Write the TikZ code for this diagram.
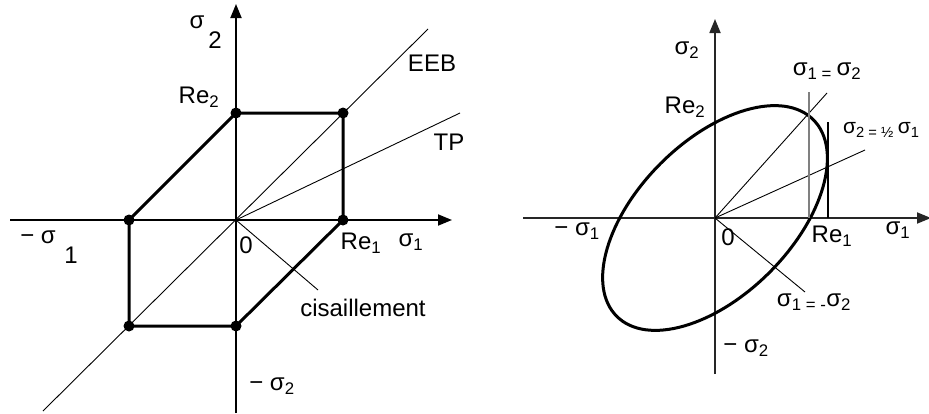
\documentclass[tikz,border=0pt]{standalone}
\usepackage{fontspec}
\setmainfont{Liberation Sans}
\usetikzlibrary{arrows.meta}
\begin{document}
\begin{tikzpicture}[x=1pt,y=-1pt,
  font=\fontsize{24}{26}\selectfont,
  plainaxis/.style={line width=1.8pt},
  hexline/.style={line width=3pt,line join=round},
  fineline/.style={line width=0.9pt},
  dotnode/.style={circle,fill=black,inner sep=0pt,minimum size=11pt},
  lbl/.style={inner sep=0pt}]
\useasboundingbox (0,0) rectangle (929,413);
% ---------------- left diagram ----------------
\coordinate (O1) at (236,220);
\coordinate (xl1) at (10,220);
\coordinate (xr1) at (452,220);
\coordinate (yb1) at (236,413);
\coordinate (yt1) at (236,4);
\draw[plainaxis,-{Triangle[length=14pt,width=11pt]}] (xl1) -- (xr1);
\draw[plainaxis,-{Triangle[length=14pt,width=11pt]}] (yb1) -- (yt1);
\coordinate (eebA) at (43,411);
\coordinate (eebB) at (428,29);
\coordinate (tpE) at (460,113);
\coordinate (ciE) at (318,290);
\draw[fineline] (eebA) -- (eebB);
\draw[fineline] (O1) -- (tpE);
\draw[fineline] (O1) -- (ciE);
\node[dotnode] (A) at (236,113) {};
\node[dotnode] (B) at (343,113) {};
\node[dotnode] (C) at (343,220) {};
\node[dotnode] (D) at (236,326) {};
\node[dotnode] (E) at (129,326) {};
\node[dotnode] (F) at (129,220) {};
\draw[hexline] (A.center) -- (B.center) -- (C.center) -- (D.center) -- (E.center) -- (F.center) -- cycle;
\node[lbl] (s2a) at (197,22) {σ};
\node[lbl] (s2b) at (215,40) {2};
\node[lbl] (re2l) at (199,97) {Re\textsubscript{2}};
\node[lbl] (eeb) at (432,63) {EEB};
\node[lbl] (tp) at (449,142) {TP};
\node[lbl] (zero1) at (246,245) {0};
\node[lbl] (re1l) at (361,243) {Re\textsubscript{1}};
\node[lbl] (s1l) at (411,242) {σ\textsubscript{1}};
\node[lbl] (ms1a) at (38,237) {− σ};
\node[lbl] (ms1b) at (71,255) {1};
\node[lbl] (cis) at (363,308) {cisaillement};
\node[lbl] (ms2l) at (272,386) {− σ\textsubscript{2}};
% ---------------- right diagram ----------------
\coordinate (O2) at (715,218);
\coordinate (xl2) at (523,218);
\coordinate (xr2) at (931,218);
\coordinate (yb2) at (715,374);
\coordinate (yt2) at (715,19);
\draw[plainaxis,color=black!85,-{Triangle[length=14pt,width=11pt]}] (xl2) -- (xr2);
\draw[plainaxis,color=black!85,-{Triangle[length=14pt,width=11pt]}] (yb2) -- (yt2);
\draw[line width=3pt,rotate around={45:(O2)}] (O2) ellipse [x radius=139pt, y radius=77pt];
\coordinate (eqE) at (827,93);
\coordinate (halfE) at (865,150);
\coordinate (negE) at (805,292);
\draw[fineline] (O2) -- (eqE);
\draw[fineline] (O2) -- (halfE);
\draw[fineline] (O2) -- (negE);
\coordinate (gT) at (809,92);
\coordinate (gB) at (809,218);
\coordinate (kT) at (828,122);
\coordinate (kB) at (828,218);
\draw[line width=2pt,color=black!50] (gT) -- (gB);
\draw[line width=1.2pt] (kT) -- (kB);
\node[lbl] (s2r) at (687,50) {σ\textsubscript{2}};
\node[lbl] (eqlab) at (827,71) {σ\textsubscript{1 = }σ\textsubscript{2}};
\node[lbl] (re2r) at (685,107) {Re\textsubscript{2}};
\node[lbl,anchor=west,font=\fontsize{21}{23}\selectfont] (halflab) at (843,130) {σ\textsubscript{2 = ½ }σ\textsubscript{1}};
\node[lbl] (ms1r) at (577,231) {− σ\textsubscript{1}};
\node[lbl] (zero2) at (728,237) {0};
\node[lbl] (re1r) at (832,236) {Re\textsubscript{1}};
\node[lbl] (s1r) at (898,230) {σ\textsubscript{1}};
\node[lbl] (neglab) at (814,302) {σ\textsubscript{1 = -}σ\textsubscript{2}};
\node[lbl] (ms2r) at (746,348) {− σ\textsubscript{2}};
\end{tikzpicture}
\end{document}
